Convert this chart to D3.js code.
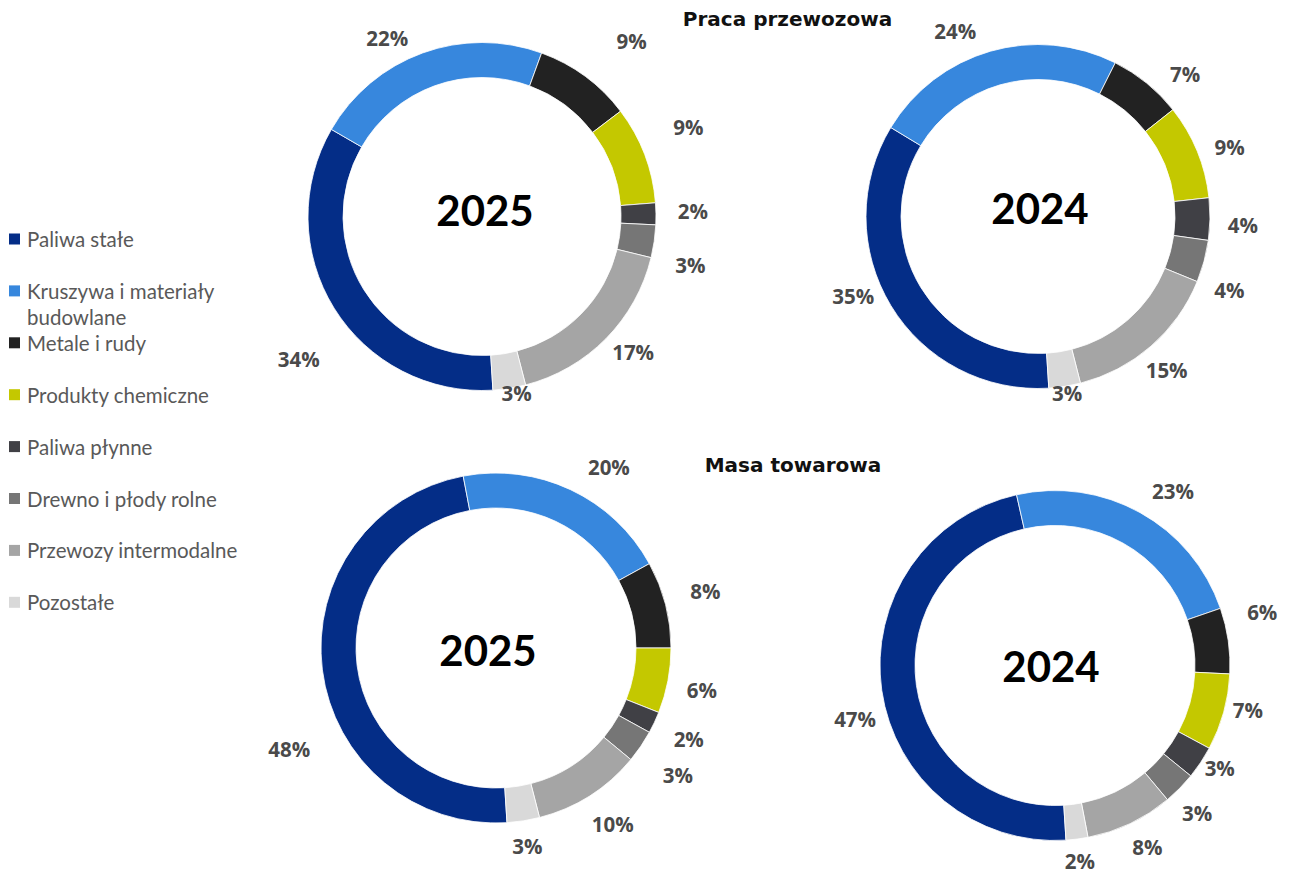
<!DOCTYPE html>
<html lang="pl">
<head>
<meta charset="utf-8">
<title>Praca przewozowa i masa towarowa</title>
<script src="https://cdn.jsdelivr.net/npm/d3@7"></script>
<style>
  html, body { margin: 0; padding: 0; background: #ffffff; }
  svg { display: block; }
</style>
</head>
<body>
<svg id="chart" width="1290" height="875"></svg>
<script>
// Cargo groups, shared by every doughnut and the legend
const categories = [
  "Paliwa stałe",
  "Kruszywa i materiały budowlane",
  "Metale i rudy",
  "Produkty chemiczne",
  "Paliwa płynne",
  "Drewno i płody rolne",
  "Przewozy intermodalne",
  "Pozostałe"
];
const categoryColors = ["#042d87", "#3787dd", "#222222", "#c4c800", "#404045", "#767676", "#a5a5a5", "#d9d9d9"];

// Shares in percent, in category order
const pracaPrzewozowa2025 = [34, 22, 9, 9, 2, 3, 17, 3];
const pracaPrzewozowa2024 = [35, 24, 7, 9, 4, 4, 15, 3];
const masaTowarowa2025 = [48, 20, 8, 6, 2, 3, 10, 3];
const masaTowarowa2024 = [47, 23, 6, 7, 3, 3, 8, 2];

const years = ["2025", "2024"];
const sectionTitles = ["Praca przewozowa", "Masa towarowa"];

// ---- layout ----
const svg = d3.select("#chart");
const RING = 35;                 // ring thickness
const LABEL_GAP = 30;            // base distance of the % labels past the ring
const START = 176.4 * Math.PI / 180;

// label nudges per slice: [angle shift in degrees, radial shift in px]
const panels = [
  { values: pracaPrzewozowa2025, year: years[0], cx: 482, cy: 216.5, r: 174, yearDx: 3, yearDy: -7,
    nudge: [[-6, 28], [-8, -2], [4, 27], [-2.6, 21], [-0.6, 7], [5, 10], [-2.7, -1], [-2, -24]] },
  { values: pracaPrzewozowa2024, year: years[1], cx: 1038, cy: 216.5, r: 172, yearDx: 2, yearDy: -9,
    nudge: [[8, -1], [-8, 1], [6.7, 3], [2.3, 2], [1.5, 3], [5.9, 3], [1, -2], [-0.4, -23]] },
  { values: masaTowarowa2025, year: years[0], cx: 496, cy: 648, r: 175, yearDx: -8, yearDy: 2,
    nudge: [[-18.8, 25], [6.8, 8], [-0.9, 12], [0.7, 5], [0, 8], [0.8, 17], [-1.2, 6], [0, -5]] },
  { values: masaTowarowa2024, year: years[1], cx: 1055, cy: 665.5, r: 175, yearDx: -4, yearDy: 0,
    nudge: [[-6.9, 2], [4.9, 6], [-6.3, 9], [-2.5, -7], [-1.8, -11], [1.5, 0], [-1.5, -1], [0, -8]] }
];

const pie = d3.pie()
  .sort(null)
  .value(d => d)
  .startAngle(START)
  .endAngle(START + 2 * Math.PI);

panels.forEach(p => {
  const g = svg.append("g").attr("transform", `translate(${p.cx},${p.cy})`);
  const arc = d3.arc().innerRadius(p.r - RING).outerRadius(p.r);
  const arcs = pie(p.values);

  g.selectAll("path.slice")
    .data(arcs)
    .join("path")
    .attr("class", "slice")
    .attr("d", arc)
    .attr("fill", (d, i) => categoryColors[i])
    .attr("stroke", "#ffffff")
    .attr("stroke-width", 0.8);

  g.selectAll("text.pct")
    .data(arcs)
    .join("text")
    .attr("class", "pct")
    .attr("x", (d, i) => {
      const a = (d.startAngle + d.endAngle) / 2 + p.nudge[i][0] * Math.PI / 180;
      return (p.r + LABEL_GAP + p.nudge[i][1]) * Math.sin(a);
    })
    .attr("y", (d, i) => {
      const a = (d.startAngle + d.endAngle) / 2 + p.nudge[i][0] * Math.PI / 180;
      return -(p.r + LABEL_GAP + p.nudge[i][1]) * Math.cos(a);
    })
    .attr("text-anchor", "middle")
    .attr("dominant-baseline", "central")
    .attr("font-family", "'Open Sans', 'DejaVu Sans', sans-serif")
    .attr("font-weight", 700)
    .attr("font-size", 20.5)
    .attr("fill", "#4a4a4a")
    .text(d => d.data + "%");

  g.append("text")
    .attr("x", p.yearDx)
    .attr("y", p.yearDy)
    .attr("text-anchor", "middle")
    .attr("dominant-baseline", "central")
    .attr("font-family", "Lato, 'Open Sans', sans-serif")
    .attr("font-weight", 700)
    .attr("font-size", 42)
    .attr("fill", "#000000")
    .text(p.year);
});

// section titles
const titlePos = [[787.5, 19], [793, 465]];
svg.selectAll("text.section")
  .data(sectionTitles)
  .join("text")
  .attr("class", "section")
  .attr("x", (d, i) => titlePos[i][0])
  .attr("y", (d, i) => titlePos[i][1])
  .attr("text-anchor", "middle")
  .attr("dominant-baseline", "central")
  .attr("font-family", "'DejaVu Sans', sans-serif")
  .attr("font-weight", 700)
  .attr("font-size", 20)
  .attr("fill", "#111111")
  .text(d => d);

// legend
const legend = svg.append("g").attr("transform", "translate(9,239)");
const legendStep = 51.9;
const item = legend.selectAll("g.item")
  .data(categories)
  .join("g")
  .attr("class", "item")
  .attr("transform", (d, i) => `translate(0,${i * legendStep})`);

item.append("rect")
  .attr("x", 0)
  .attr("y", -5.5)
  .attr("width", 11)
  .attr("height", 11)
  .attr("fill", (d, i) => categoryColors[i]);

const legendLines = d => d === "Kruszywa i materiały budowlane" ? ["Kruszywa i materiały", "budowlane"] : [d];
item.append("text")
  .attr("x", 18)
  .attr("y", 0)
  .attr("font-family", "Lato, 'Open Sans', sans-serif")
  .attr("font-size", 20.5)
  .attr("fill", "#595959")
  .selectAll("tspan")
  .data(d => legendLines(d))
  .join("tspan")
  .attr("x", 18)
  .attr("y", (d, i) => i * 25.7)
  .attr("dominant-baseline", "central")
  .text(d => d);
</script>
</body>
</html>
